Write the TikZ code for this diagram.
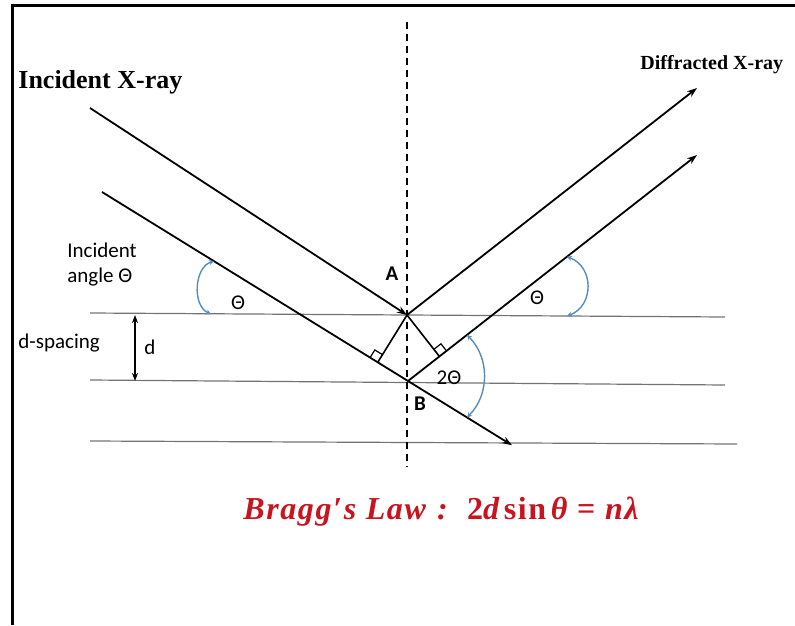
\documentclass[tikz,border=0pt]{standalone}
\usepackage{fontspec}
\usetikzlibrary{arrows.meta,calc}
\newfontfamily\labelfont{Carlito}
\newfontfamily\titlefont{Liberation Serif}
\newfontfamily\lawfont[LetterSpace=5]{Liberation Serif}
\definecolor{braggred}{RGB}{200,20,30}
\definecolor{arcblue}{RGB}{85,140,190}
\newcommand\braggeq{\lawfont\bfseries\itshape Bragg′s Law\hspace{0.35em}:\hspace{0.6em}{\upshape 2}d\hspace{0.15em}{\upshape sin}\hspace{0.15em}θ\hspace{0.3em}{\upshape =}\hspace{0.3em}nλ}
\tikzset{
  ray/.style={line width=0.9pt, -{Stealth[length=5pt,width=3.5pt]}},
  plane/.style={line width=0.6pt, black!55},
  anglearc/.style={arcblue, line width=0.7pt, {Stealth[length=2.5pt,width=2.5pt]}-{Stealth[length=2.5pt,width=2.5pt]}},
  lbl/.style={font=\labelfont\fontsize{10.5}{12.5}\selectfont, inner sep=0pt},
  heading/.style={inner sep=0pt, anchor=west},
}

\begin{document}
\begin{tikzpicture}[x=0.5pt,y=0.5pt]
    \useasboundingbox (0,0) rectangle (795,-625);

    % Frame
    \draw[line width=1.5pt] (12,-625) -- (12,-6) -- (795,-6);

    % Lattice planes and the normal through A and B
    \begin{scope}
        \draw[plane] (90,-313) -- (725,-317);
        \draw[plane] (90,-380) -- (725,-385);
        \draw[plane] (90,-441) -- (737,-444);
        \draw[line width=1pt, dash pattern=on 3.5pt off 2.5pt] (407,-22) -- (407,-467);
    \end{scope}

    % Incident and diffracted rays
    \begin{scope}
        \coordinate (A) at (407,-315);
        \coordinate (B) at (408,-381);
        \coordinate (in1s) at (90,-108);
        \coordinate (in2s) at (102,-192);
        \coordinate (in2e) at ($(in2s)!1.34!(B)$);
        \coordinate (out1e) at (697,-88);
        \coordinate (out2e) at (697,-155);
        \draw[ray] (in1s) -- (A);
        \draw[ray] (in2s) -- (in2e);
        \draw[ray] (A) -- (out1e);
        \draw[ray] (B) -- (out2e);
        % Path difference: perpendiculars from A with right-angle marks
        \coordinate (F1) at ($(in2s)!(A)!(B)$);
        \coordinate (F2) at ($(B)!(A)!(out2e)$);
        \draw[line width=0.8pt] (A) -- (F1);
        \draw[line width=0.8pt] (A) -- (F2);
        \foreach \f/\t in {F1/in2s, F2/out2e} {
            \coordinate (U) at ($(\f)!4.5pt!(\t)$);
            \coordinate (V) at ($(\f)!4.5pt!(A)$);
            \draw[line width=0.6pt] (U) -- ($(U)+(V)-(\f)$) -- (V);
        }
    \end{scope}

    % Angle arcs
    \begin{scope}
        \coordinate (lt) at ($(in2s)!0.366!(B)$);
        \coordinate (lb) at (211,-314);
        \draw[anglearc] (lt) to[bend right=70] (lb);
        \coordinate (rt) at ($(B)!0.55!(out2e)$);
        \coordinate (rb) at (567,-316);
        \draw[anglearc] (rt) to[bend left=70, looseness=1.25] (rb);
        \coordinate (tt) at ($(B)!0.204!(out2e)$);
        \coordinate (tb) at ($(B)!0.567!(in2e)$);
        \draw[anglearc] (tt) to[bend left=45] (tb);
    \end{scope}

    % d-spacing marker
    \coordinate (dt) at (135,-315);
    \coordinate (db) at (135,-381);
    \draw[line width=0.8pt, {Stealth[length=4pt,width=3pt]}-{Stealth[length=4pt,width=3pt]}] (dt) -- (db);

    % Labels
    \node[heading, font=\titlefont\bfseries\fontsize{13}{15}\selectfont] (incray) at (18,-82) {Incident X-ray};
    \node[heading, font=\titlefont\bfseries\fontsize{10}{12}\selectfont] (difray) at (640,-65) {Diffracted X-ray};
    \node[lbl, anchor=west, align=left] (incangle) at (67,-265) {Incident\\angle Θ};
    \node[lbl, anchor=west] (dspacing) at (18,-343) {d-spacing};
    \node[lbl] (dlbl) at (150,-347) {d};
    \node[lbl] (thl) at (238,-303) {Θ};
    \node[lbl] (thr) at (537,-298) {Θ};
    \node[lbl] (twoth) at (449,-378) {2Θ};
    \node[lbl, font=\labelfont\bfseries\fontsize{10.5}{12.5}\selectfont] (lblA) at (392,-274) {A};
    \node[lbl, font=\labelfont\bfseries\fontsize{10.5}{12.5}\selectfont] (lblB) at (420,-404) {B};
    \node[text=braggred, font=\fontsize{16}{19}\selectfont] (bragg) at (441,-512) {\braggeq};
\end{tikzpicture}
\end{document}
